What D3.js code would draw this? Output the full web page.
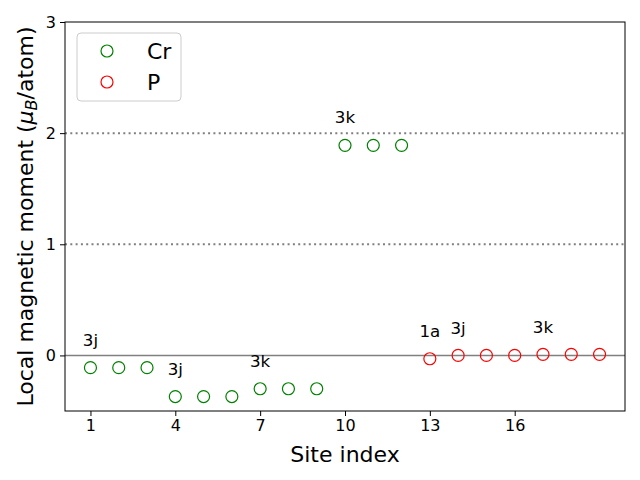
<!DOCTYPE html>
<html><head><meta charset="utf-8">
<script src="https://cdn.jsdelivr.net/npm/d3@7"></script>
<style>body{margin:0;background:#fff}</style>
</head><body>
<svg id="c" width="640" height="480"></svg>
<script>
const crSites = [1,2,3,4,5,6,7,8,9,10,11,12];
const crValues = [-0.11,-0.11,-0.11,-0.37,-0.37,-0.37,-0.30,-0.30,-0.30,1.89,1.89,1.89];
const pSites = [13,14,15,16,17,18,19];
const pValues = [-0.03,0.0,0.0,0.0,0.01,0.01,0.01];
const labelTexts = ["3j","3j","3k","3k","1a","3j","3k"];
const labelX = [1,4,7,10,13,14,17];
const labelY = [0.086,-0.175,-0.104,2.09,0.167,0.194,0.203];
const xTicks = [1,4,7,10,13,16];
const yTicks = [0,1,2,3];
const refLines = [1,2];

const svg = d3.select("#c");
const L=65,R=625,T=22,B=411;
const x = d3.scaleLinear().domain([0.1,19.9]).range([L,R]);
const y = d3.scaleLinear().domain([-0.5,3]).range([B,T]);
const font = "DejaVu Sans, sans-serif";

svg.selectAll("line.ref").data(refLines).enter().append("line")
  .attr("x1",L).attr("x2",R).attr("y1",d=>y(d)).attr("y2",d=>y(d))
  .attr("stroke","#808080").attr("stroke-width",2).attr("stroke-dasharray","2,3.3");
svg.append("line").attr("x1",L).attr("x2",R).attr("y1",y(0)).attr("y2",y(0))
  .attr("stroke","#808080").attr("stroke-width",1.5);

svg.selectAll("circle.cr").data(crSites).enter().append("circle")
  .attr("cx",d=>x(d)).attr("cy",(d,i)=>y(crValues[i])).attr("r",6)
  .attr("fill","none").attr("stroke","green").attr("stroke-width",1.2);
svg.selectAll("circle.p").data(pSites).enter().append("circle")
  .attr("cx",d=>x(d)).attr("cy",(d,i)=>y(pValues[i])).attr("r",6)
  .attr("fill","none").attr("stroke","red").attr("stroke-width",1.2);

svg.selectAll("text.lab").data(labelTexts).enter().append("text")
  .attr("x",(d,i)=>x(labelX[i])).attr("y",(d,i)=>y(labelY[i]))
  .attr("text-anchor","middle").attr("font-family",font).attr("font-size",16.7)
  .text(d=>d);

const xa = svg.append("g").attr("transform",`translate(0,${B})`)
  .call(d3.axisBottom(x).tickValues(xTicks).tickSize(5).tickPadding(4).tickSizeOuter(0).tickFormat(d3.format("d")));
const ya = svg.append("g").attr("transform",`translate(${L},0)`)
  .call(d3.axisLeft(y).tickValues(yTicks).tickSize(5).tickPadding(4).tickSizeOuter(0).tickFormat(d3.format("d")));
[xa,ya].forEach(g=>{
  g.select(".domain").remove();
  g.selectAll("text").attr("font-family",font).attr("font-size",16).attr("fill","#000");
  g.selectAll("line").attr("stroke","#000").attr("stroke-width",1);
});
svg.append("rect").attr("x",L).attr("y",T).attr("width",R-L).attr("height",B-T)
  .attr("fill","none").attr("stroke","#000").attr("stroke-width",1);

svg.append("text").attr("x",(L+R)/2).attr("y",462).attr("text-anchor","middle")
  .attr("font-family",font).attr("font-size",22).text("Site index");
const yl = svg.append("text").attr("transform",`translate(33,${(T+B)/2}) rotate(-90)`)
  .attr("text-anchor","middle").attr("font-family",font).attr("font-size",22);
yl.append("tspan").text("Local magnetic moment (");
yl.append("tspan").attr("font-style","italic").text("μ");
yl.append("tspan").attr("font-style","italic").attr("font-size",16).attr("dy",4).text("B");
yl.append("tspan").attr("dy",-4).text("/atom)");

const lg = svg.append("g");
lg.append("rect").attr("x",77).attr("y",33).attr("width",104).attr("height",68).attr("rx",4)
  .attr("fill","#fff").attr("fill-opacity",0.8).attr("stroke","#ccc").attr("stroke-width",1);
const legNames = ["Cr","P"], legColors = ["green","red"];
legNames.forEach((n,i)=>{
  lg.append("circle").attr("cx",107).attr("cy",51+i*31).attr("r",6)
    .attr("fill","none").attr("stroke",legColors[i]).attr("stroke-width",1.2);
  lg.append("text").attr("x",147).attr("y",59+i*31).attr("font-family",font)
    .attr("font-size",22).text(n);
});
</script>
</body></html>
